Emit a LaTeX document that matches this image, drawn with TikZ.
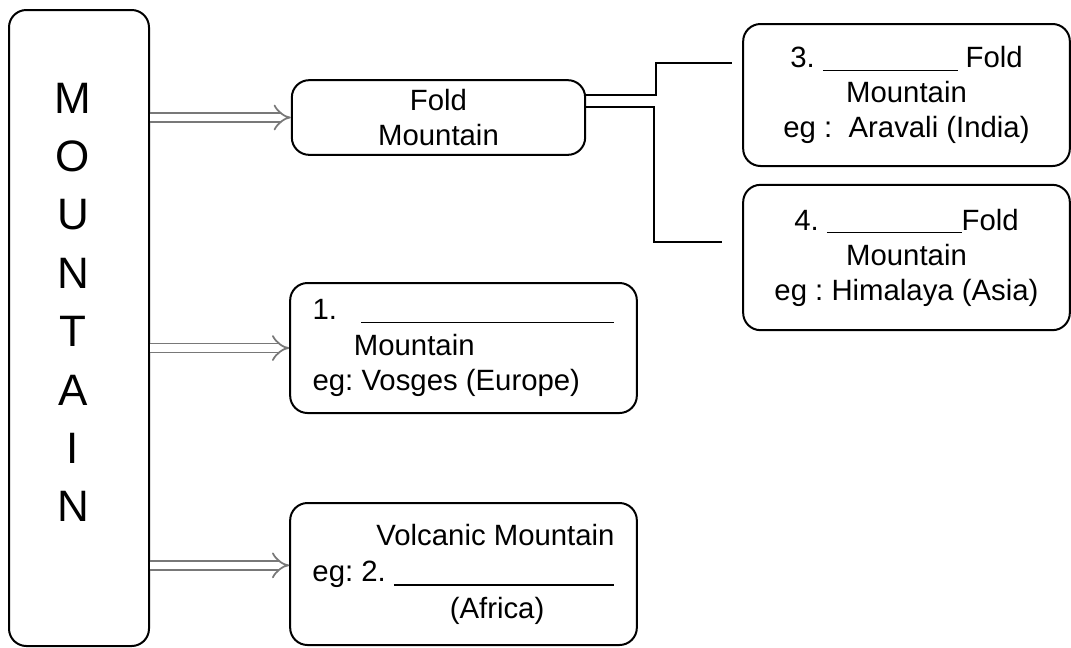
\documentclass[tikz,border=0pt]{standalone}
\usepackage{fontspec}
\setmainfont{Liberation Sans}
\usetikzlibrary{arrows.meta,positioning}
\definecolor{arrowgrey}{RGB}{120,120,120}
\frenchspacing

\begin{document}
\begin{tikzpicture}[x=0.75pt,y=-0.75pt,
  box/.style={draw,line width=1.5pt,rounded corners=13pt,inner sep=0pt},
  txt/.style={font=\fontsize{22}{26.3}\selectfont},
  letter/.style={font=\fontsize{33}{33}\selectfont},
  dbl/.style={draw=arrowgrey,double=white,double distance=5.5pt,line width=1.3pt,-{Implies[scale=1.3]}},
  link/.style={line width=1.2pt}]
\useasboundingbox (0,0) rectangle (1071,647);

% the column on the left
\node[box,minimum width=105pt,minimum height=477pt] (mountain) at (79,328) {};
\foreach \l [count=\i from 0] in {M,O,U,N,T,A,I,N}
  {\node[letter] (l\i) at (73,{98+58.4*\i}) {\l};}

% the boxes
\node[box,txt,align=center,minimum width=220pt,minimum height=56pt] (fold) at (438.5,117.5) {Fold\\Mountain};
\node[box,txt,align=center,minimum width=245pt,minimum height=106.5pt] (oldfold) at (906.5,95)
  {3. \rule[-2.5pt]{101pt}{0.9pt} Fold\\Mountain\\eg :\ \ Aravali (India)};
\node[box,txt,align=center,minimum width=245pt,minimum height=109pt] (youngfold) at (906.5,257.5)
  {4. \rule[-2.5pt]{101pt}{0.9pt}Fold\\Mountain\\eg : Himalaya (Asia)};
\node[box,txt,align=left,minimum width=260pt,minimum height=97.5pt] (block) at (463.5,348)
  {1.\hspace{18pt}\rule[-2.5pt]{190pt}{0.9pt}\\\hspace{31pt}Mountain\\eg: Vosges (Europe)};
\node[box,txt,align=left,minimum width=260pt,minimum height=106.5pt] (volcano) at (463.5,574)
  {\hspace{48pt}Volcanic Mountain\\[1pt]eg: 2.\hspace{6pt}\rule[-3pt]{165pt}{0.9pt}\\[1pt]\hspace{103pt}(Africa)};

% arrows
\draw[dbl] (mountain.east |- fold.west) -- (fold.west);
\draw[dbl] (mountain.east |- block.west) -- (block.west);
\draw[dbl] ([yshift=6.5pt]mountain.east |- volcano.west) -- ([yshift=6.5pt]volcano.west);

% links to the fold mountains
\coordinate (end3) at (732,63);
\coordinate (end4) at (722,242);
\draw[link] ([yshift=16.9pt]fold.east) -- ++(70,0) |- (end3);
\draw[link] ([yshift=7.9pt]fold.east) -- ++(68,0) |- (end4);

\end{tikzpicture}
\end{document}
